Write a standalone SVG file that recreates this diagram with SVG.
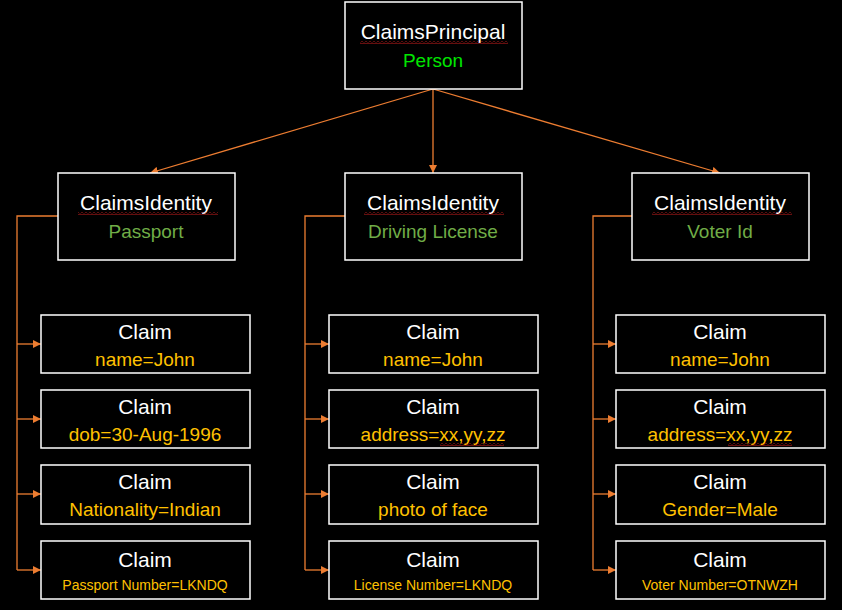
<svg xmlns="http://www.w3.org/2000/svg" width="842" height="610" viewBox="0 0 842 610">
<defs>
<marker id="ah" viewBox="0 0 10 10" refX="10" refY="5" markerWidth="8" markerHeight="8" markerUnits="userSpaceOnUse" orient="auto">
<path d="M0,0 L10,5 L0,10 z" fill="#ED7D31"/>
</marker>
<pattern id="wave" patternUnits="userSpaceOnUse" x="0" y="0" width="4" height="3">
<path d="M0,0.5 L2,2.5 L4,0.5" fill="none" stroke="#E02020" stroke-width="0.9"/>
</pattern>
<style>
.box{fill:#000;stroke:#fff;stroke-width:1.5}
.t{font-family:"Liberation Sans",Arial,sans-serif;text-anchor:middle}
.w{fill:#fff;font-size:21px}
.g1{fill:#00E600;font-size:19px}
.g2{fill:#70AD47;font-size:19px}
.v{fill:#FFC000;font-size:19px}
.s{fill:#FFC000;font-size:14px}
.c{fill:none;stroke:#ED7D31;stroke-width:1.3}
.sq{fill:url(#wave)}
</style>
</defs>
<rect width="842" height="610" fill="#000"/>
<g id="connectors">
<path class="c" d="M433,89 L150,173" marker-end="url(#ah)"/>
<path class="c" d="M433,89 L433,173" marker-end="url(#ah)"/>
<path class="c" d="M433,89 L720,173" marker-end="url(#ah)"/>
<path class="c" d="M58,216 H17 V570"/>
<path class="c" d="M17,344 H41" marker-end="url(#ah)"/>
<path class="c" d="M17,419 H41" marker-end="url(#ah)"/>
<path class="c" d="M17,494 H41" marker-end="url(#ah)"/>
<path class="c" d="M17,570 H41" marker-end="url(#ah)"/>
<path class="c" d="M345,216 H305 V570"/>
<path class="c" d="M305,344 H329" marker-end="url(#ah)"/>
<path class="c" d="M305,419 H329" marker-end="url(#ah)"/>
<path class="c" d="M305,494 H329" marker-end="url(#ah)"/>
<path class="c" d="M305,570 H329" marker-end="url(#ah)"/>
<path class="c" d="M632,216 H593 V570"/>
<path class="c" d="M593,344 H616" marker-end="url(#ah)"/>
<path class="c" d="M593,419 H616" marker-end="url(#ah)"/>
<path class="c" d="M593,494 H616" marker-end="url(#ah)"/>
<path class="c" d="M593,570 H616" marker-end="url(#ah)"/>
</g>
<g id="principal">
<rect class="box" x="345" y="2" width="177" height="87"/>
<text class="t w" x="433" y="39">ClaimsPrincipal</text>
<rect class="sq" x="360" y="41" width="148" height="3"/>
<text class="t g1" x="433" y="67">Person</text>
</g>
<g id="id-passport">
<rect class="box" x="58" y="173" width="177" height="87"/>
<text class="t w" x="146" y="210">ClaimsIdentity</text>
<rect class="sq" x="78" y="212" width="140" height="3"/>
<text class="t g2" x="146" y="238">Passport</text>
</g>
<g id="id-driving">
<rect class="box" x="345" y="173" width="177" height="87"/>
<text class="t w" x="433" y="210">ClaimsIdentity</text>
<rect class="sq" x="364" y="212" width="140" height="3"/>
<text class="t g2" x="433" y="238">Driving License</text>
</g>
<g id="id-voter">
<rect class="box" x="632" y="173" width="177" height="87"/>
<text class="t w" x="720" y="210">ClaimsIdentity</text>
<rect class="sq" x="652" y="212" width="140" height="3"/>
<text class="t g2" x="720" y="238">Voter Id</text>
</g>
<g id="claim-p1"><rect class="box" x="41" y="315" width="209" height="58"/><text class="t w" x="145" y="339">Claim</text><text class="t v" x="145" y="366">name=John</text></g>
<g id="claim-p2"><rect class="box" x="41" y="390" width="209" height="58"/><text class="t w" x="145" y="414">Claim</text><text class="t v" x="145" y="441">dob=30-Aug-1996</text></g>
<g id="claim-p3"><rect class="box" x="41" y="465" width="209" height="59"/><text class="t w" x="145" y="489">Claim</text><text class="t v" x="145" y="516">Nationality=Indian</text></g>
<g id="claim-p4"><rect class="box" x="41" y="541" width="209" height="58"/><text class="t w" x="145" y="567">Claim</text><text class="t s" x="145" y="590">Passport Number=LKNDQ</text></g>
<g id="claim-d1"><rect class="box" x="329" y="315" width="209" height="58"/><text class="t w" x="433" y="339">Claim</text><text class="t v" x="433" y="366">name=John</text></g>
<g id="claim-d2"><rect class="box" x="329" y="390" width="209" height="58"/><text class="t w" x="433" y="414">Claim</text><text class="t v" x="433" y="441">address=xx,yy,zz</text>
<rect class="sq" x="440" y="443" width="64" height="3"/></g>
<g id="claim-d3"><rect class="box" x="329" y="465" width="209" height="59"/><text class="t w" x="433" y="489">Claim</text><text class="t v" x="433" y="516">photo of face</text></g>
<g id="claim-d4"><rect class="box" x="329" y="541" width="209" height="58"/><text class="t w" x="433" y="567">Claim</text><text class="t s" x="433" y="590">License Number=LKNDQ</text></g>
<g id="claim-v1"><rect class="box" x="616" y="315" width="209" height="58"/><text class="t w" x="720" y="339">Claim</text><text class="t v" x="720" y="366">name=John</text></g>
<g id="claim-v2"><rect class="box" x="616" y="390" width="209" height="58"/><text class="t w" x="720" y="414">Claim</text><text class="t v" x="720" y="441">address=xx,yy,zz</text>
<rect class="sq" x="728" y="443" width="64" height="3"/></g>
<g id="claim-v3"><rect class="box" x="616" y="465" width="209" height="59"/><text class="t w" x="720" y="489">Claim</text><text class="t v" x="720" y="516">Gender=Male</text></g>
<g id="claim-v4"><rect class="box" x="616" y="541" width="209" height="58"/><text class="t w" x="720" y="567">Claim</text><text class="t s" x="720" y="590">Voter Number=OTNWZH</text></g>
</svg>
